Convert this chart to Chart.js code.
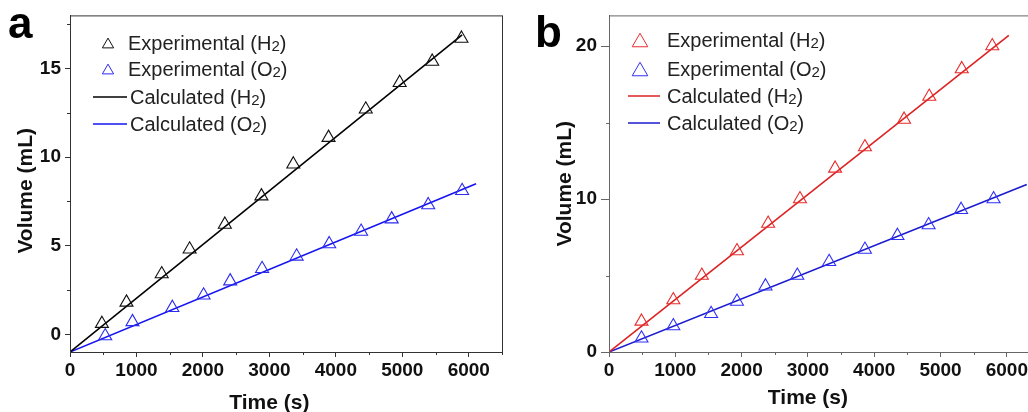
<!DOCTYPE html>
<html>
<head>
<meta charset="utf-8">
<script src="https://cdn.jsdelivr.net/npm/chart.js@4"></script>
<style>
  html, body { margin: 0; padding: 0; background: #fff; overflow: hidden; width: 1028px; height: 412px; }
  .panel { position: absolute; top: 0; height: 416px; }
  #pa { left: 0; width: 520px; }
  #pb { left: 520px; width: 540px; }
  .tag { position: absolute; font: bold 44px "Liberation Sans", Arial, sans-serif; line-height: 44px; color: #000; }
</style>
</head>
<body>
<div class="panel" id="pa"><canvas id="ca" width="520" height="416"></canvas></div>
<div class="panel" id="pb"><canvas id="cb" width="540" height="416"></canvas></div>
<div class="tag" style="left:8px;top:1px">a</div>
<div class="tag" style="left:535px;top:10px">b</div>

<script>
// panel a
const timeH2a = [480, 850, 1380, 1800, 2330, 2880, 3360, 3890, 4450, 4960, 5450, 5890];
const volH2a = [0.6, 1.8, 3.4, 4.8, 6.2, 7.8, 9.6, 11.1, 12.7, 14.2, 15.4, 16.7];
const timeO2a = [530, 940, 1540, 2010, 2410, 2890, 3410, 3900, 4380, 4840, 5390, 5900];
const volO2a = [-0.1, 0.7, 1.5, 2.2, 3.0, 3.7, 4.4, 5.1, 5.8, 6.5, 7.3, 8.1];
const calcTimeH2a = [0, 5900];
const calcVolH2a = [-1, 16.9];
const calcTimeO2a = [0, 6110];
const calcVolO2a = [-1, 8.5];

// panel b
const timeH2b = [490, 970, 1400, 1930, 2400, 2880, 3410, 3860, 4450, 4830, 5320, 5780];
const volH2b = [2.0, 3.4, 5.0, 6.6, 8.4, 10.0, 12.0, 13.4, 15.2, 16.7, 18.5, 20.0];
const timeO2b = [490, 970, 1540, 1930, 2360, 2840, 3320, 3860, 4350, 4820, 5310, 5800];
const volO2b = [0.9, 1.7, 2.5, 3.3, 4.3, 5.0, 5.9, 6.7, 7.6, 8.3, 9.3, 10.0];
const calcTimeH2b = [0, 6030];
const calcVolH2b = [0, 20.7];
const calcTimeO2b = [0, 6300];
const calcVolO2b = [0, 10.95];

// ticks
const xTicks = [0, 1000, 2000, 3000, 4000, 5000, 6000];
const xMinor = [500, 1500, 2500, 3500, 4500, 5500, 6500];
const yTicksA = [0, 5, 10, 15];
const yMinorA = [2.5, 7.5, 12.5, 17.5];
const yTicksB = [0, 10, 20];
const yMinorB = [5, 15];

const labels = ["Experimental (H2)", "Experimental (O2)", "Calculated (H2)", "Calculated (O2)"];

const FONT = '"Liberation Sans", Arial, sans-serif';

function pts(xs, ys) {
  return xs.map((x, i) => ({ x: x, y: ys[i] }));
}

// text with the digits set smaller, like H2 / O2
function drawChem(ctx, text, x, y, size) {
  text.split(/(\d+)/).forEach((p, k) => {
    const sub = k % 2 === 1;
    ctx.font = (sub ? Math.round(size * 0.75) : size) + "px " + FONT;
    ctx.fillText(p, x, y + (sub ? 1 : 0));
    x += ctx.measureText(p).width;
  });
}

const boxPlugin = {
  id: "box",
  afterDraw(chart, args, o) {
    const ctx = chart.ctx, a = chart.chartArea;
    ctx.save();
    ctx.strokeStyle = o.color;
    ctx.lineWidth = 1;
    ctx.strokeRect(a.left + 0.5, a.top + 0.5, a.right - a.left, a.bottom - a.top);
    // minor ticks
    const xs = chart.scales.x, ys = chart.scales.y;
    ctx.beginPath();
    o.xMinor.forEach(v => {
      const px = Math.round(xs.getPixelForValue(v)) + 0.5;
      ctx.moveTo(px, a.bottom); ctx.lineTo(px, a.bottom + o.minorLen);
    });
    o.yMinor.forEach(v => {
      const py = Math.round(ys.getPixelForValue(v)) + 0.5;
      ctx.moveTo(a.left, py); ctx.lineTo(a.left - o.minorLen, py);
    });
    ctx.stroke();
    // axis titles
    ctx.fillStyle = "#111";
    ctx.font = "bold 21px " + FONT;
    ctx.textAlign = "center";
    ctx.textBaseline = "middle";
    ctx.fillText("Time (s)", xs.getPixelForValue(3000), a.bottom + o.xTitleDy);
    ctx.translate(a.left - 44, ys.getPixelForValue(o.yTitleAt));
    ctx.rotate(-Math.PI / 2);
    ctx.fillText("Volume (mL)", 0, 0);
    ctx.restore();
  }
};

const legendPlugin = {
  id: "inLegend",
  afterDraw(chart, args, o) {
    const ctx = chart.ctx, a = chart.chartArea;
    ctx.save();
    chart.data.datasets.forEach((ds, i) => {
      const y = o.rows[i];
      ctx.strokeStyle = ds.borderColor;
      if (ds.showLine) {
        ctx.lineWidth = 1.5;
        ctx.beginPath();
        ctx.moveTo(a.left + o.lineFrom, y);
        ctx.lineTo(a.left + o.lineTo, y);
        ctx.stroke();
      } else {
        ctx.lineWidth = 1;
        ctx.fillStyle = "rgba(0,0,0,0)";
        Chart.helpers.drawPoint(ctx, { pointStyle: "triangle", radius: o.markR, borderWidth: 1, rotation: 0 }, a.left + o.markX, y + o.markR / 4);
      }
      ctx.fillStyle = "#222";
      ctx.textAlign = "left";
      ctx.textBaseline = "alphabetic";
      drawChem(ctx, ds.label, a.left + (ds.showLine ? o.textX2 : o.textX1), y + 7, 20);
    });
    ctx.restore();
  }
};

function makeChart(id, c) {
  const tickFont = { family: FONT, size: 19, weight: "bold" };
  return new Chart(document.getElementById(id), {
    type: "scatter",
    data: {
      datasets: [
        { label: labels[0], data: pts(c.tH2, c.vH2), borderColor: c.colH2, backgroundColor: "rgba(0,0,0,0)",
          pointStyle: "triangle", pointRadius: 7.5, pointBorderWidth: 1.1 },
        { label: labels[1], data: pts(c.tO2, c.vO2), borderColor: c.colO2pt, backgroundColor: "rgba(0,0,0,0)",
          pointStyle: "triangle", pointRadius: 7.5, pointBorderWidth: 1.1 },
        { label: labels[2], data: pts(c.ctH2, c.cvH2), showLine: true, borderColor: c.colH2line, borderWidth: 1.6, pointRadius: 0 },
        { label: labels[3], data: pts(c.ctO2, c.cvO2), showLine: true, borderColor: c.colO2line, borderWidth: 1.6, pointRadius: 0 }
      ]
    },
    options: {
      responsive: false,
      animation: false,
      layout: { padding: { top: 13, right: c.padRight, left: 0, bottom: 0 } },
      plugins: {
        legend: { display: false },
        tooltip: { enabled: false },
        box: { color: c.axisColor, xMinor: xMinor, yMinor: c.yMinor, minorLen: 3, xTitleDy: c.xTitleDy, yTitleAt: c.yTitleAt },
        inLegend: c.legend
      },
      scales: {
        x: {
          type: "linear", min: 0, max: 6500,
          afterBuildTicks: s => { s.ticks = xTicks.map(v => ({ value: v })); },
          afterFit: s => { s.height = 64; },
          grid: { drawOnChartArea: false, tickLength: 5, color: c.axisColor },
          border: { color: c.axisColor },
          ticks: { font: tickFont, color: "#111", padding: 2, maxRotation: 0, autoSkip: false, callback: v => String(v) }
        },
        y: {
          type: "linear", min: c.yMin, max: c.yMax,
          afterBuildTicks: s => { s.ticks = c.yTicks.map(v => ({ value: v })); },
          afterFit: s => { s.width = c.yWidth; },
          grid: { drawOnChartArea: false, tickLength: c.yTickLen, color: c.axisColor },
          border: { color: c.axisColor },
          ticks: { font: tickFont, color: "#111", padding: 4, autoSkip: false, callback: v => String(v) }
        }
      }
    },
    plugins: [boxPlugin, legendPlugin]
  });
}

makeChart("ca", {
  tH2: timeH2a, vH2: volH2a, tO2: timeO2a, vO2: volO2a,
  ctH2: calcTimeH2a, cvH2: calcVolH2a, ctO2: calcTimeO2a, cvO2: calcVolO2a,
  colH2: "#111", colO2pt: "#2b2bf0", colH2line: "#000", colO2line: "#1414f0",
  axisColor: "#333", padRight: 18, yWidth: 70, yTickLen: 5,
  yMin: -1, yMax: 18, yTicks: yTicksA, yMinor: yMinorA,
  xTitleDy: 51, yTitleAt: 8.1,
  legend: { rows: [43, 69, 97, 124], markX: 38, markR: 6.5, lineFrom: 23, lineTo: 57, textX1: 58, textX2: 60 }
});

makeChart("cb", {
  tH2: timeH2b, vH2: volH2b, tO2: timeO2b, vO2: volO2b,
  ctH2: calcTimeH2b, cvH2: calcVolH2b, ctO2: calcTimeO2b, cvO2: calcVolO2b,
  colH2: "#e82c2c", colO2pt: "#3030f5", colH2line: "#dc2222", colO2line: "#1a1ad0",
  axisColor: "#666", padRight: 20, yWidth: 89, yTickLen: 8,
  yMin: 0, yMax: 22, yTicks: yTicksB, yMinor: yMinorB,
  xTitleDy: 46, yTitleAt: 11,
  legend: { rows: [40, 69, 96, 123], markX: 31, markR: 9, lineFrom: 19, lineTo: 51, textX1: 58, textX2: 58 }
});
</script>
</body>
</html>
